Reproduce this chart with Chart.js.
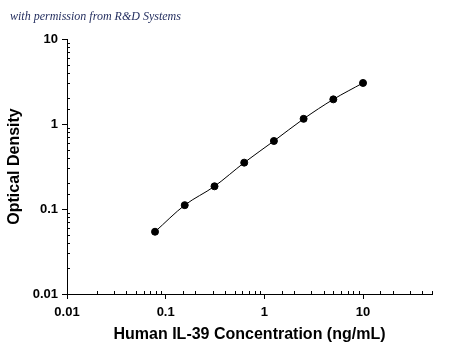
<!DOCTYPE html>
<html>
<head>
<meta charset="utf-8">
<script src="https://cdn.jsdelivr.net/npm/chart.js@4/dist/chart.umd.min.js"></script>
<style>
  html, body { margin: 0; padding: 0; background: #fff; }
  #wrap { position: relative; width: 450px; height: 349px; }
  #note { position: absolute; left: 10px; top: 9px; font-family: "Liberation Serif", serif; font-style: italic; font-size: 12px; color: #1f2a5c; white-space: nowrap; }
  canvas { position: absolute; left: 0; top: 0; }
</style>
</head>
<body>
<div id="wrap">
  <canvas id="c" width="450" height="349"></canvas>
  <div id="note">with permission from R&amp;D Systems</div>
</div>
<script>
const concentrations = [0.078, 0.156, 0.3125, 0.625, 1.25, 2.5, 5, 10];
const opticalDensity = [0.054, 0.111, 0.185, 0.351, 0.631, 1.15, 1.95, 3.04];
const xTickLabels = [0.01, 0.1, 1, 10];
const yTickLabels = [0.01, 0.1, 1, 10];
const xTitle = 'Human IL-39 Concentration (ng/mL)';
const yTitle = 'Optical Density';

function findLabel(list, v) {
  return list.find(t => Math.abs(Math.log10(t) - Math.log10(v)) < 1e-6);
}
function isLabelled(list, v) {
  return findLabel(list, v) !== undefined;
}

const minorTicks = {
  id: 'minorTicks',
  afterDraw(chart) {
    const ctx = chart.ctx;
    ctx.save();
    ctx.strokeStyle = '#000';
    ctx.lineWidth = 1;
    const xs = chart.scales.x, ys = chart.scales.y;
    ctx.beginPath();
    xs.ticks.forEach(t => {
      if (isLabelled(xTickLabels, t.value)) return;
      const px = Math.round(xs.getPixelForValue(t.value)) + 0.5;
      ctx.moveTo(px, xs.top);
      ctx.lineTo(px, xs.top - 3);
    });
    ys.ticks.forEach(t => {
      if (isLabelled(yTickLabels, t.value)) return;
      const py = Math.round(ys.getPixelForValue(t.value)) + 0.5;
      ctx.moveTo(ys.right, py);
      ctx.lineTo(ys.right + 3, py);
    });
    ctx.stroke();
    ctx.restore();
  }
};

const tickFont = { family: '"Liberation Sans", Arial, sans-serif', size: 13, weight: 'bold' };
const titleFont = { family: '"Liberation Sans", Arial, sans-serif', size: 16, weight: 'bold' };

new Chart(document.getElementById('c'), {
  type: 'line',
  data: {
    datasets: [{
      data: concentrations.map((x, i) => ({ x: x, y: opticalDensity[i] })),
      borderColor: '#000',
      backgroundColor: '#000',
      borderWidth: 1,
      pointRadius: 3.5,
      pointHoverRadius: 3.5,
      pointBackgroundColor: '#000',
      pointBorderColor: '#000',
      tension: 0.3,
      cubicInterpolationMode: 'monotone',
      fill: false
    }]
  },
  options: {
    responsive: false,
    animation: false,
    events: [],
    layout: { padding: { top: 39, right: 18, left: 0, bottom: 0 } },
    plugins: { legend: { display: false }, tooltip: { enabled: false } },
    scales: {
      x: {
        type: 'logarithmic',
        min: 0.01,
        max: 50,
        afterFit(s) { s.height = 55; },
        border: { display: true, color: '#000', width: 1 },
        grid: {
          display: true, drawOnChartArea: false, drawTicks: true, tickLength: 5,
          tickColor: c => isLabelled(xTickLabels, c.tick.value) ? '#000' : 'rgba(0,0,0,0)'
        },
        ticks: {
          autoSkip: false, maxRotation: 0, color: '#000', font: tickFont, padding: 6,
          callback: v => isLabelled(xTickLabels, v) ? String(findLabel(xTickLabels, v)) : ''
        },
        title: { display: true, text: xTitle, color: '#000', font: titleFont, padding: { top: 0, bottom: 5 } }
      },
      y: {
        type: 'logarithmic',
        min: 0.01,
        max: 10,
        afterFit(s) { s.width = 67; },
        border: { display: true, color: '#000', width: 1 },
        grid: {
          display: true, drawOnChartArea: false, drawTicks: true, tickLength: 5,
          tickColor: c => isLabelled(yTickLabels, c.tick.value) ? '#000' : 'rgba(0,0,0,0)'
        },
        ticks: {
          autoSkip: false, color: '#000', font: tickFont, padding: 4,
          callback: v => isLabelled(yTickLabels, v) ? String(findLabel(yTickLabels, v)) : ''
        },
        title: { display: true, text: yTitle, color: '#000', font: titleFont, padding: { top: 5, bottom: 0 } }
      }
    }
  },
  plugins: [minorTicks]
});
</script>
</body>
</html>
